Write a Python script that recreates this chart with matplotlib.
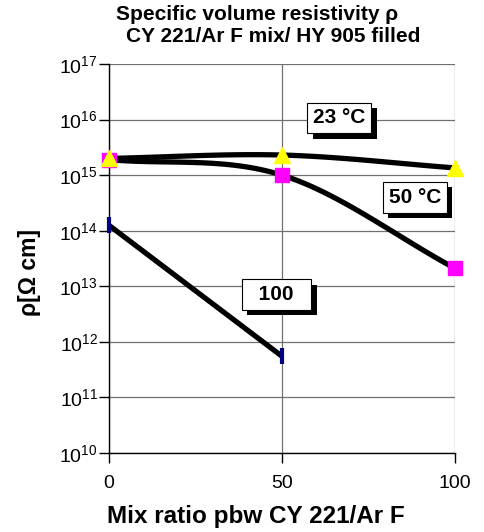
import numpy as np
import matplotlib
matplotlib.use("Agg")
import matplotlib.pyplot as plt
from matplotlib.ticker import FixedLocator, FuncFormatter
import matplotlib.patheffects as pe

plt.rcParams["font.family"] = ["Liberation Sans", "DejaVu Sans"]
plt.rcParams["mathtext.fontset"] = "custom"
plt.rcParams["mathtext.rm"] = "Liberation Sans"
plt.rcParams["mathtext.it"] = "Liberation Sans:italic"
plt.rcParams["mathtext.bf"] = "Liberation Sans:bold"

# ---- data ----
mix_ratio = [0, 50, 100]
rho_23C = [2.0e15, 2.3e15, 1.35e15]
rho_50C = [1.9e15, 1.0e15, 2.1e13]
mix_ratio_100 = [0, 50]
rho_100C = [1.25e14, 5.5e11]
labels = ["23 °C", "50 °C", "  100  "]
label_pos = [(66.6, 1.07e16), (88.4, 4.0e14), (48.4, 7.1e12)]
x_ticks = [0, 50, 100]
y_ticks = [1e10, 1e11, 1e12, 1e13, 1e14, 1e15, 1e16, 1e17]


def smooth(x, y, n=40):
    """Catmull-Rom style smoothing in log-space (Excel-like smoothed line)."""
    x = np.asarray(x, float)
    ly = np.log10(np.asarray(y, float))
    if len(x) < 3:
        return x, 10 ** ly
    px = np.concatenate([[2 * x[0] - x[1]], x, [2 * x[-1] - x[-2]]])
    py = np.concatenate([[2 * ly[0] - ly[1]], ly, [2 * ly[-1] - ly[-2]]])
    xs, ys = [], []
    for i in range(1, len(px) - 2):
        t = np.linspace(0, 1, n)
        p0, p1, p2, p3 = [np.array([px[j], py[j]]) for j in range(i - 1, i + 3)]
        tt = t[:, None]
        pts = 0.5 * ((2 * p1) + (-p0 + p2) * tt + (2 * p0 - 5 * p1 + 4 * p2 - p3) * tt ** 2
                     + (-p0 + 3 * p1 - 3 * p2 + p3) * tt ** 3)
        xs.append(pts[:, 0]); ys.append(pts[:, 1])
    return np.concatenate(xs), 10 ** np.concatenate(ys)


fig = plt.figure(figsize=(4.84, 5.32), dpi=100)
ax = fig.add_axes([0.2252, 0.1485, 0.7149, 0.7312])
ax.set_yscale("log")
ax.set_xlim(0, 100)
ax.set_ylim(1e10, 1e17)

for s in ["top", "right"]:
    ax.spines[s].set_visible(False)
ax.spines["left"].set_linewidth(1.0)
ax.spines["bottom"].set_linewidth(1.0)

ax.yaxis.set_major_locator(FixedLocator(y_ticks))
ax.yaxis.set_minor_locator(FixedLocator([]))
ax.xaxis.set_major_locator(FixedLocator(x_ticks))
ax.yaxis.set_major_formatter(FuncFormatter(lambda v, p: r"$\mathregular{10^{%d}}$" % int(round(np.log10(v)))))
ax.grid(True, which="major", color="#707070", linewidth=0.9)
ax.set_axisbelow(True)
ax.tick_params(axis="both", direction="out", length=7, width=1.0, labelsize=14, pad=1)
ax.tick_params(axis="x", pad=9)

# lines
for xv, yv in [(mix_ratio, rho_23C), (mix_ratio, rho_50C), (mix_ratio_100, rho_100C)]:
    sx, sy = smooth(xv, yv)
    ax.plot(sx, sy, color="black", lw=3.8, solid_capstyle="butt", clip_on=False, zorder=3)

ax.plot(mix_ratio, rho_50C, ls="none", marker="s", ms=10, color="#ff00ff", clip_on=False, zorder=4)
ax.plot(mix_ratio, rho_23C, ls="none", marker="^", ms=11, color="#ffff00", clip_on=False, zorder=5)
ax.plot(mix_ratio_100, rho_100C, ls="none", marker="|", ms=12, mew=3, color="#000080", clip_on=False, zorder=5)

# labels with shadow boxes
for txt, (lx, ly) in zip(labels, label_pos):
    t = ax.text(lx, ly, txt, ha="center", va="center", fontsize=15, fontweight="bold",
                color="black", zorder=7,
                bbox=dict(boxstyle="square,pad=0.28", fc="white", ec="black", lw=0.8))
    t.get_bbox_patch().set_path_effects([
        pe.SimplePatchShadow(offset=(4, -4), shadow_rgbFace="black", alpha=1.0),
        pe.Normal()])

fig.text(257 / 484, 1 - 20 / 532, "Specific volume resistivity ρ", ha="center", va="baseline",
         fontsize=15, fontweight="bold")
fig.text(273 / 484, 1 - 42 / 532, "CY 221/Ar F mix/ HY 905 filled", ha="center", va="baseline",
         fontsize=15, fontweight="bold")
ax.set_xlabel("Mix ratio pbw CY 221/Ar F", fontsize=17.5, fontweight="bold")
ax.xaxis.set_label_coords((256 - 109) / 346, (453 - 523) / 389)
ax.xaxis.label.set_va("baseline")
ax.set_ylabel("ρ[Ω cm]", fontsize=16.5, fontweight="bold")
ax.yaxis.set_label_coords((30 - 109) / 346, (453 - 273) / 389)
ax.yaxis.label.set_va("center")
ax.yaxis.label.set_ha("center")

fig.savefig("out.png", dpi=100)
